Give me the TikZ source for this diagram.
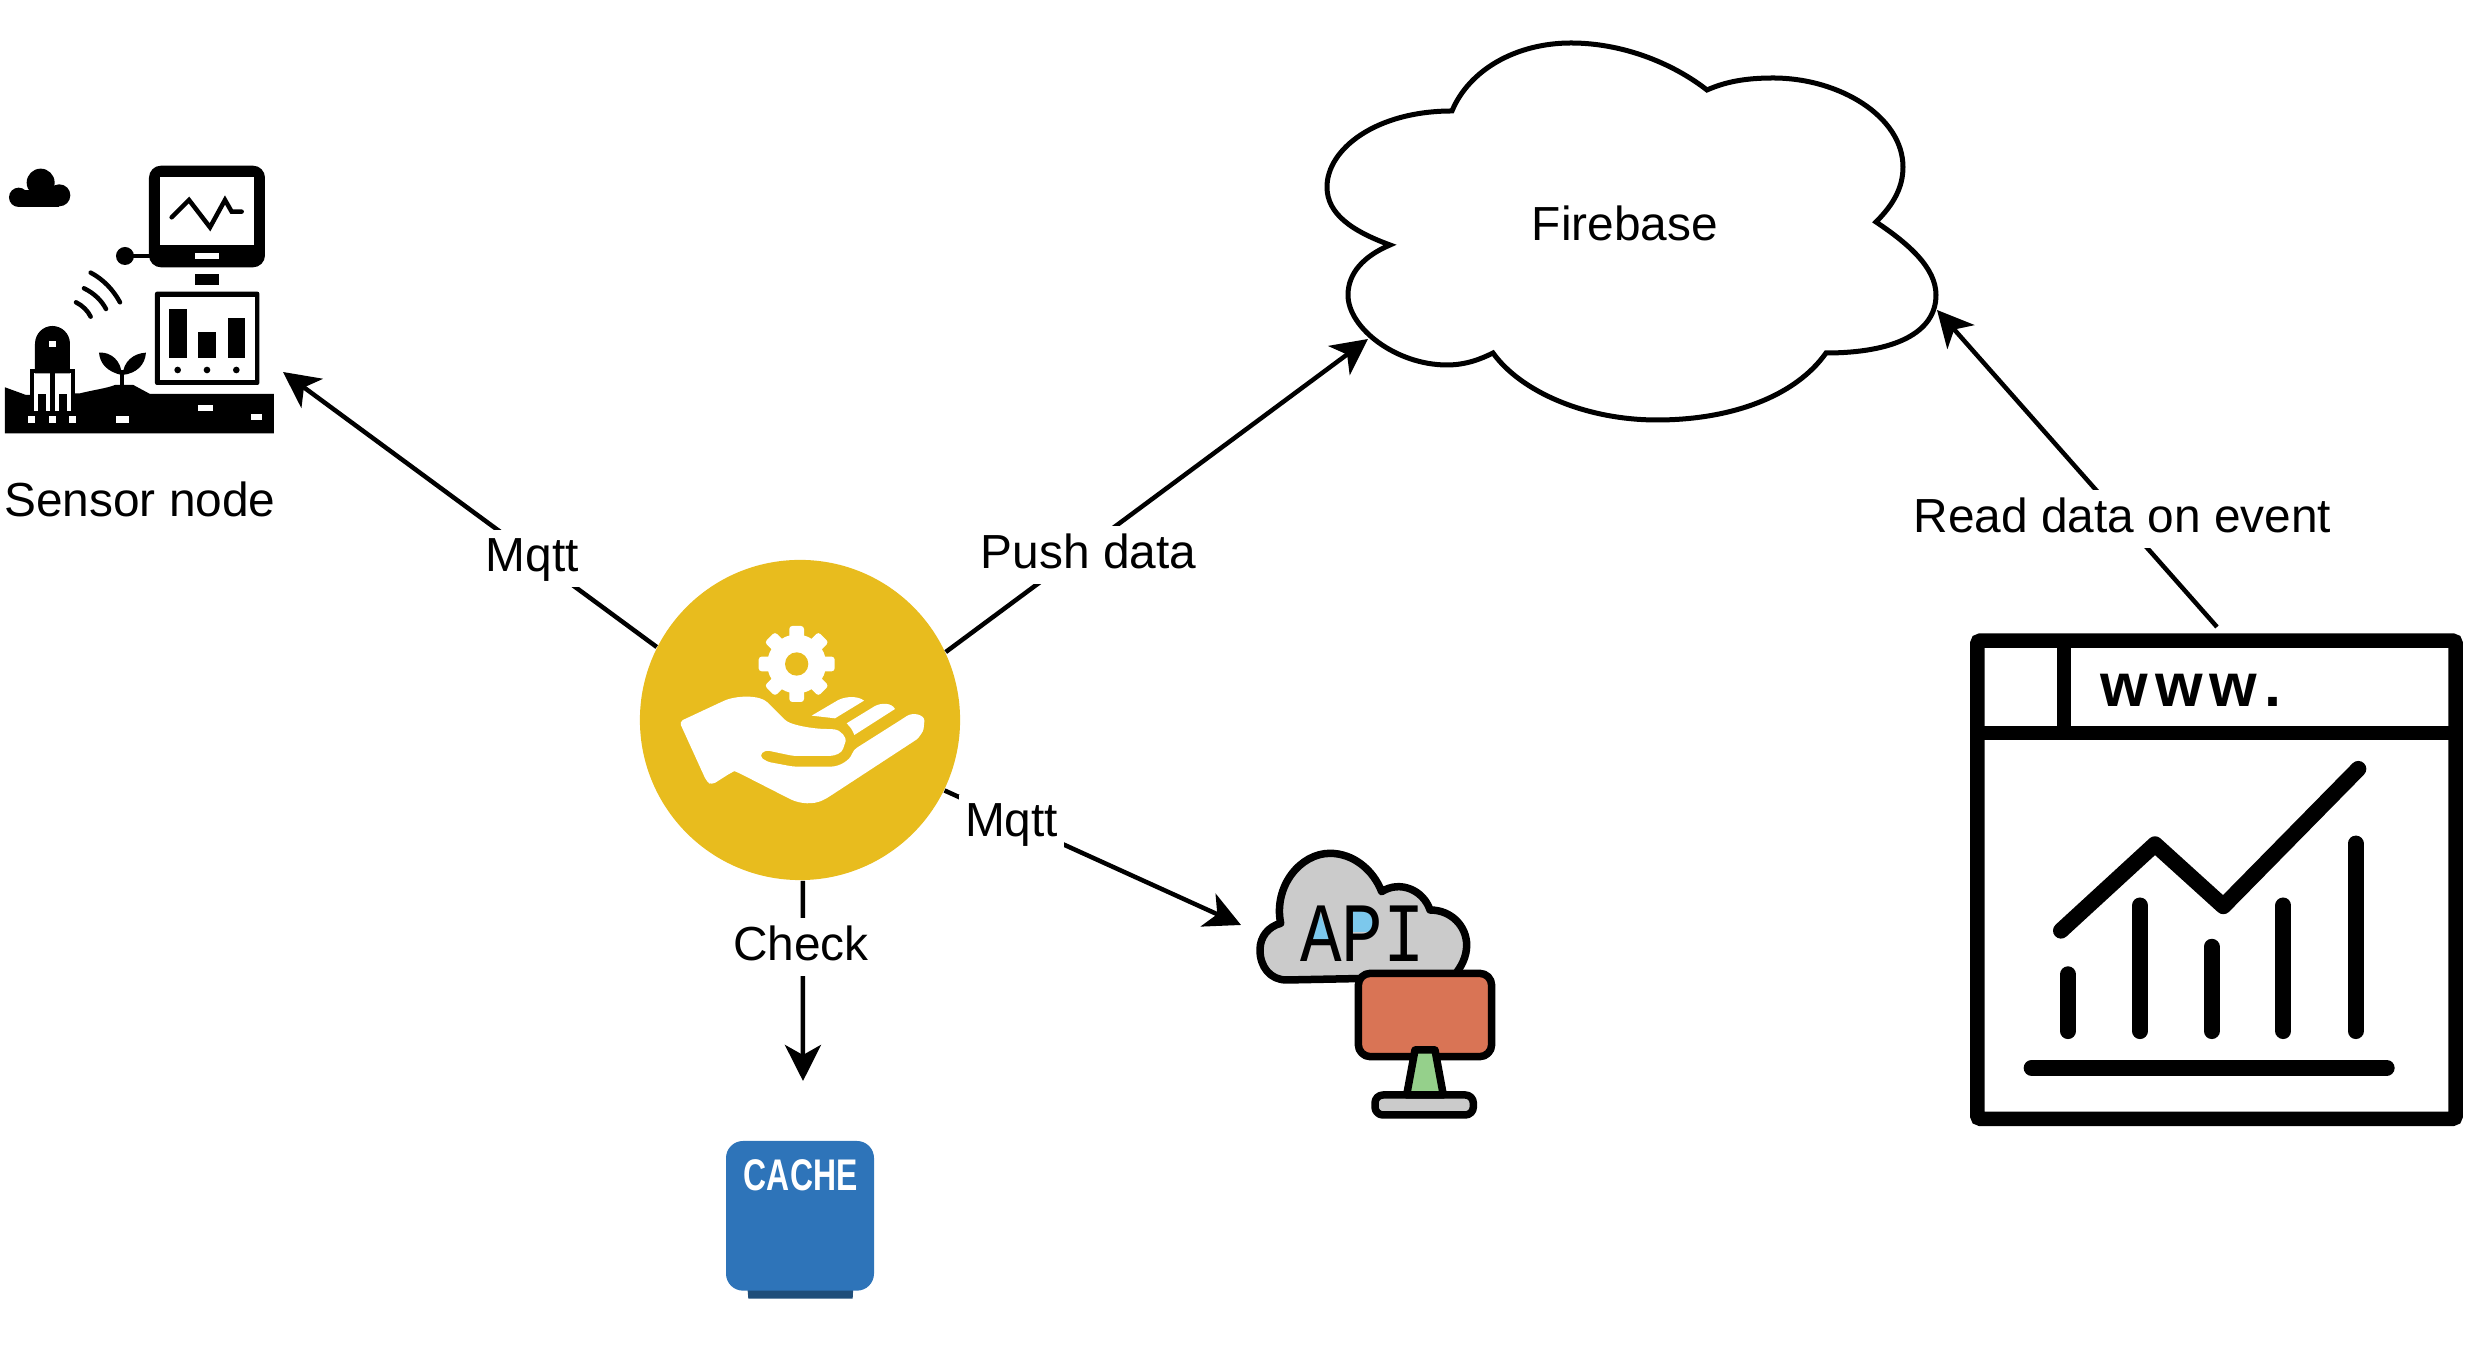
\documentclass[tikz,border=0pt]{standalone}
\usepackage{fontspec}
\setmainfont{Liberation Sans}
\newfontfamily\apifont{Liberation Mono}
\usetikzlibrary{arrows.meta}
\definecolor{hubyellow}{HTML}{E8BC1E}
\definecolor{cacheblue}{HTML}{2E74B9}
\definecolor{cachedark}{HTML}{1F4E79}
\definecolor{apigrey}{HTML}{CBCBCB}
\definecolor{apiblue}{HTML}{7CC8EC}
\definecolor{apired}{HTML}{D97455}
\definecolor{apigreen}{HTML}{95D08B}
\tikzset{
  conn/.style={draw=black,line width=0.045cm,-{Stealth[length=0.36cm,width=0.36cm,inset=0.1cm]}},
  plainlabel/.style={inner sep=0pt,text height=10.2pt,text depth=2.86pt,font=\fontsize{13.6}{16}\selectfont},
  edgelabel/.style={plainlabel,fill=white,inner sep=1.7pt},
  apistroke/.style={draw=black,line width=0.075cm,line join=round,line cap=round},
  webstroke/.style={line width=0.16cm,line cap=round,line join=round},
  signal/.style={line width=0.045cm,line cap=round}
}
\begin{document}
\begin{tikzpicture}[x=0.01cm,y=-0.01cm]
  \useasboundingbox (0,0) rectangle (2480,1368);

  % free ends of the connectors
  \coordinate (sensorend) at (283,372);
  \coordinate (cloudleft) at (1368,339);
  \coordinate (cloudright) at (1937,310);
  \coordinate (webtop) at (2217,627);
  \coordinate (apiend) at (1241,925);
  \coordinate (cacheend) at (803,1081);

  % firebase cloud
  \draw[line width=0.05cm,fill=white] (1452,111)
    .. controls (1469,70) and (1516,43) .. (1571,43)
    .. controls (1621,43) and (1671,62) .. (1707,90)
    .. controls (1725,82) and (1745,78) .. (1773,78)
    .. controls (1840,78) and (1903,117) .. (1903,167)
    .. controls (1903,187) and (1894,204) .. (1876,222)
    .. controls (1909,244) and (1936,268) .. (1936,295)
    .. controls (1936,333) and (1894,353) .. (1826,353)
    .. controls (1795,397) and (1730,420) .. (1657,420)
    .. controls (1586,420) and (1521,392) .. (1493,353)
    .. controls (1481,359) and (1466,365) .. (1447,365)
    .. controls (1396,365) and (1348,328) .. (1348,295)
    .. controls (1348,273) and (1364,256) .. (1390,245)
    .. controls (1352,231) and (1327,214) .. (1327,187)
    .. controls (1327,149) and (1376,111) .. (1452,111) -- cycle;
  \node[plainlabel] (firebase) at (1625,228) {Firebase};

  % hub
  \node[circle,fill=hubyellow,minimum size=3.2cm,inner sep=0pt] (hub) at (800,720) {};

  \draw[conn] (hub.153.6) -- node[edgelabel,pos=0.3325,yshift=-0.03cm] (mqttsensor) {Mqtt} (sensorend);
  \draw[conn] (hub.25.8) -- node[edgelabel,pos=0.338,yshift=-0.09cm] (pushdata) {Push data} (cloudleft);
  \draw[conn] (hub.-26.7) -- node[edgelabel,pos=0.226,yshift=-0.03cm] (mqttapi) {Mqtt} (apiend);
  \draw[conn] (hub.-89) -- node[edgelabel,pos=0.333,xshift=-0.02cm] (check) {Check} (cacheend);
  \draw[conn] (webtop) -- node[edgelabel,pos=0.345,xshift=0.02cm,yshift=-0.015cm] (readdata) {Read data on event} (cloudright);

  \node[plainlabel] (sensorlabel) at (140,504) {Sensor node};

  % hand and gear
  \begin{scope}[shift={(630,550)},scale=1/3]
    \fill[white] (500,342) circle (88);
    \foreach \a in {0,45,...,315}
      \fill[white,rounded corners=0.03cm,rotate around={\a:(500,342)}] (478,342) rectangle (522,228);
    \fill[hubyellow] (500,342) circle (35);
    \fill[white,rounded corners=0.04cm] (148,515) -- (270,458)
      .. controls (320,435) and (390,435) .. (420,465) -- (470,515)
      .. controls (510,530) and (560,537) .. (600,537)
      .. controls (635,540) and (650,565) .. (643,585)
      .. controls (635,610) and (615,617) .. (590,618) -- (490,618) -- (405,600) -- (388,618) -- (410,635)
      -- (490,650) -- (590,650) .. controls (630,650) and (660,630) .. (670,600)
      -- (820,505) .. controls (850,485) and (885,495) .. (882,525)
      .. controls (880,545) and (865,565) .. (850,575) -- (590,745)
      .. controls (550,765) and (510,762) .. (470,742) -- (325,668)
      .. controls (315,664) and (310,665) .. (300,670) -- (245,705) -- (230,695) -- cycle;
    \fill[white] (545,497) -- (625,450) .. controls (650,438) and (685,438) .. (702,452) -- (615,505) -- cycle;
    \fill[white] (650,520) -- (735,468) .. controls (755,458) and (785,458) .. (795,477) -- (673,555)
      .. controls (668,540) and (660,530) .. (650,520) -- cycle;
  \end{scope}

  % sensor icon
  \begin{scope}[shift={(0,140)},scale=1/3]
    \fill (122,128) circle (42);
    \fill (178,166) circle (33);
    \fill (56,172) circle (29);
    \fill (56,150) rectangle (178,200);
    \fill[rounded corners=0.12cm] (447,77) rectangle (795,382);
    \fill[white] (480,112) rectangle (762,315);
    \fill[white] (585,340) rectangle (657,358);
    \draw[signal] (515,232) -- (567,180) -- (630,262) -- (675,180) -- (695,215) -- (725,215);
    \fill (375,348) circle (27);
    \draw[signal] (375,348) -- (450,348);
    \fill (585,402) rectangle (657,436);
    \fill[rounded corners=0.02cm] (465,455) rectangle (778,735);
    \fill[white] (480,470) rectangle (765,720);
    \fill (507,507) rectangle (560,655);
    \fill (595,577) rectangle (648,655);
    \fill (683,533) rectangle (735,655);
    \foreach \x in {533,621,709}
      \fill (\x,690) circle (10);
    \draw[signal] (228,487) .. controls (248,497) and (263,512) .. (272,530);
    \draw[signal] (252,445) .. controls (283,460) and (305,482) .. (318,507);
    \draw[signal] (272,398) .. controls (310,418) and (340,450) .. (360,487);
    \fill (15,742) -- (78,765) -- (240,760) .. controls (280,750) and (320,745) .. (345,735)
      -- (400,735) -- (450,762) -- (822,762) -- (822,880) -- (15,880) -- cycle;
    \foreach \x/\y/\w/\h in {85/828/20/20,147/828/20/20,207/828/20/20,348/828/39/20,594/795/44/18,752/821/35/19}
      \fill[white] (\x,\y) rectangle ++(\w,\h);
    \fill[white] (103,700) rectangle (212,812);
    \fill (105,700) -- (105,612) .. controls (105,580) and (130,558) .. (157,558)
      .. controls (185,558) and (210,580) .. (210,612) -- (210,700) -- cycle;
    \fill[white] (147,602) rectangle (167,620);
    \fill (90,695) rectangle (102,815);
    \fill (214,695) rectangle (226,815);
    \fill (90,688) rectangle (226,700);
    \fill (150,695) rectangle (165,812);
    \fill (115,762) rectangle (137,815);
    \fill (178,762) rectangle (200,815);
    \draw[line width=0.04cm] (365,735) -- (365,690);
    \fill (365,705) .. controls (320,695) and (300,670) .. (297,638) .. controls (335,635) and (365,665) .. (365,705) -- cycle;
    \fill (368,705) .. controls (370,665) and (400,640) .. (438,638) .. controls (435,675) and (410,700) .. (368,705) -- cycle;
  \end{scope}

  % api icon
  \begin{scope}[shift={(1240,830)},scale=1/3]
    \draw[apistroke,fill=apigrey] (640,440) -- (140,450)
      .. controls (90,450) and (60,410) .. (60,360)
      .. controls (60,320) and (85,290) .. (122,280)
      .. controls (100,170) and (180,70) .. (270,70)
      .. controls (340,70) and (400,120) .. (425,185)
      .. controls (480,150) and (550,180) .. (570,240)
      .. controls (635,240) and (680,290) .. (680,345)
      .. controls (680,380) and (665,410) .. (640,440) -- cycle;
    \fill[apiblue] (240,250) -- (272,335) -- (208,335) -- cycle;
    \fill[apiblue] (340,240) rectangle (405,305);
    \node[inner sep=0pt,font=\apifont\fontsize{24}{24}\selectfont] (apitext) at (367,310) {\scalebox{0.82}[1]{API}};
    \draw[apistroke,fill=apired,rounded corners=0.12cm] (355,430) rectangle (755,680);
    \draw[apistroke,fill=apigrey,rounded corners=0.08cm] (405,855) -- (405,795) -- (700,795) -- (700,855) -- cycle;
    \draw[apistroke,fill=apigreen] (525,660) -- (585,660) -- (610,795) -- (500,795) -- cycle;
  \end{scope}

  % cache icon
  \begin{scope}[shift={(700,1130)},scale=1/3]
    \fill[cachedark] (142,470) -- (460,470) -- (458,506) -- (145,506) -- cycle;
    \fill[cacheblue,rounded corners=0.17cm] (78,33) rectangle (522,482);
    \node[inner sep=0pt,text=white,font=\fontsize{12.6}{14}\selectfont\bfseries] (cachetext) at (302,137) {\scalebox{0.72}[1]{CACHE}};
  \end{scope}

  % web icon
  \begin{scope}[shift={(1960,620)},xscale=1/3,yscale=0.344]
    \draw[line width=0.145cm,rounded corners=0.03cm] (52,60) rectangle (1487,1450);
    \draw[line width=0.145cm] (52,328) -- (1487,328);
    \draw[line width=0.145cm] (312,60) -- (312,328);
    \node[inner sep=0pt,anchor=base west,font=\fontsize{17.4}{20}\selectfont\bfseries] (webtext) at (420,252) {w\kern2pt w\kern2pt w\kern2pt .};
    \draw[webstroke] (303,903) -- (585,652) -- (790,832) -- (1195,433);
    \foreach \x/\y in {324/1030,540/830,755/950,970/830,1187/650}
      \draw[webstroke] (\x,\y) -- (\x,1195);
    \draw[webstroke] (215,1302) -- (1280,1302);
  \end{scope}
\end{tikzpicture}
\end{document}
